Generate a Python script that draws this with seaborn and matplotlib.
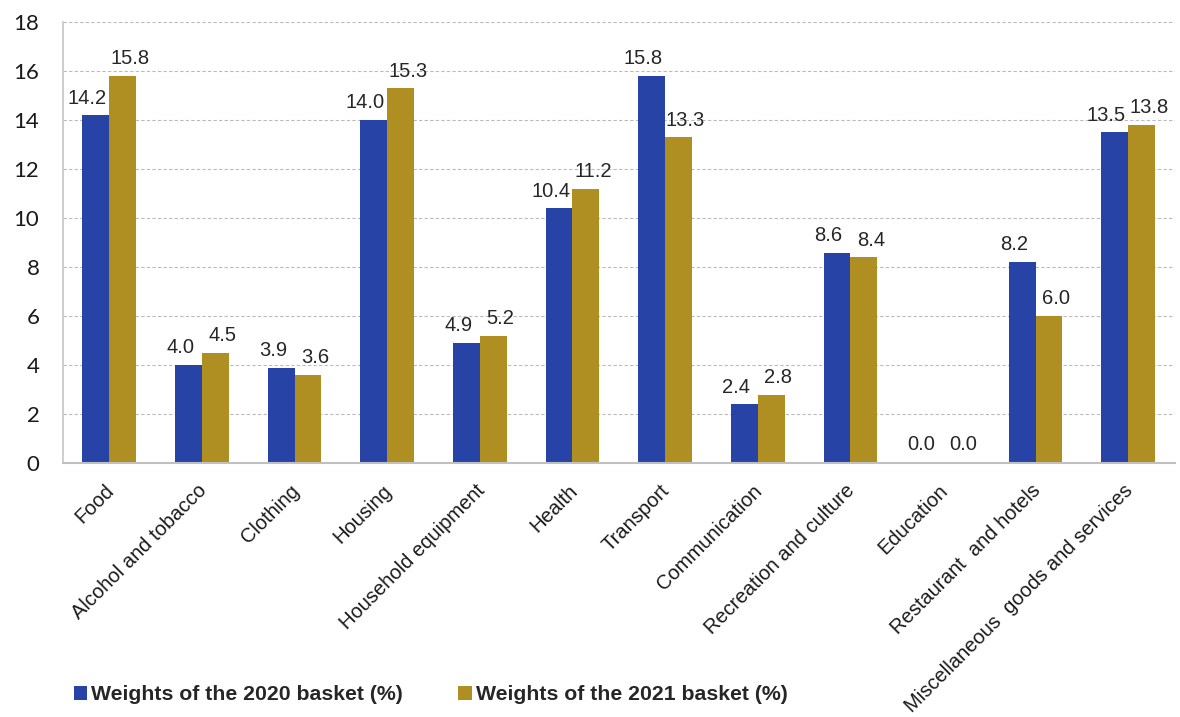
import matplotlib
matplotlib.use("Agg")
import matplotlib.pyplot as plt
import matplotlib.transforms as mtransforms
import seaborn as sns
import pandas as pd

categories = ["Food", "Alcohol and tobacco", "Clothing", "Housing", "Household equipment",
              "Health", "Transport", "Communication", "Recreation and culture", "Education",
              "Restaurant  and hotels", "Miscellaneous  goods and services"]
w2020 = [14.2, 4.0, 3.9, 14.0, 4.9, 10.4, 15.8, 2.4, 8.6, 0.04, 8.2, 13.5]
w2021 = [15.8, 4.5, 3.6, 15.3, 5.2, 11.2, 13.3, 2.8, 8.4, 0.04, 6.0, 13.8]
series = ["Weights of the 2020 basket (%)", "Weights of the 2021 basket (%)"]
yticks = [0, 2, 4, 6, 8, 10, 12, 14, 16, 18]

df = pd.DataFrame({
    "category": categories * 2,
    "value": w2020 + w2021,
    "series": [series[0]] * len(categories) + [series[1]] * len(categories),
})

sns.set_theme(style="white")
plt.rcParams["font.family"] = ["Liberation Sans", "DejaVu Sans"]

fig = plt.figure(figsize=(11.8, 7.17), dpi=100)
ax = fig.add_axes([0.0534, 0.354, 0.942, 0.615])

palette = {series[0]: "#2743A6", series[1]: "#AF8E22"}
sns.barplot(data=df, x="category", y="value", hue="series", palette=palette,
            width=0.58, saturation=1, ax=ax, legend=True, edgecolor="none", linewidth=0)

# data labels, nudged apart like the reference
offsets = [-6.0, 5.0]
for cont, dx in zip(ax.containers, offsets):
    for bar, v in zip(cont.patches, cont.datavalues):
        ax.annotate(f"{v:.1f}", xy=(bar.get_x() + bar.get_width() / 2, bar.get_height()),
                    xytext=(dx, 8.5), textcoords="offset points", ha="center", va="baseline",
                    fontsize=14.5, color="#262626")

ax.set_ylim(0, 18)
ax.set_xlim(-0.5, len(categories) - 0.5)
ax.set_yticks(yticks)
ax.set_yticklabels([str(t) for t in yticks], fontsize=16, family=["Lato", "DejaVu Sans"],
                   color="#1a1a1a")
ax.yaxis.grid(True, linestyle=(0, (3, 2)), color="#BBBBBB", linewidth=0.8)
ax.set_axisbelow(True)
ax.set_xlabel("")
ax.set_ylabel("")
for s in ["top", "right"]:
    ax.spines[s].set_visible(False)
ax.spines["left"].set_color("#C8C8C8")
ax.spines["bottom"].set_color("#C0C0C0")
ax.spines["bottom"].set_linewidth(1.5)
ax.tick_params(axis="both", length=0)
ax.tick_params(axis="y", pad=17)
ax.tick_params(axis="x", pad=13)
ax.set_xticks(range(len(categories)))
ax.set_xticklabels(categories, rotation=45, ha="right", rotation_mode="anchor", fontsize=14.5,
                   color="#1a1a1a")
shift = mtransforms.ScaledTranslation(-5 / 100, 0, fig.dpi_scale_trans)
for lab in ax.get_xticklabels():
    lab.set_transform(lab.get_transform() + shift)

handles, labs = ax.get_legend_handles_labels()
ax.get_legend().remove()
fig.legend(handles, labs, loc="center left", bbox_to_anchor=(74 / 1180, 1 - 695 / 717), ncol=2,
           frameon=False, prop={"weight": "bold", "size": 15.3}, handlelength=0.62,
           handleheight=0.62, handletextpad=0.2, columnspacing=2.6, borderaxespad=0,
           borderpad=0)

fig.savefig("out.png", dpi=100, facecolor="white")
